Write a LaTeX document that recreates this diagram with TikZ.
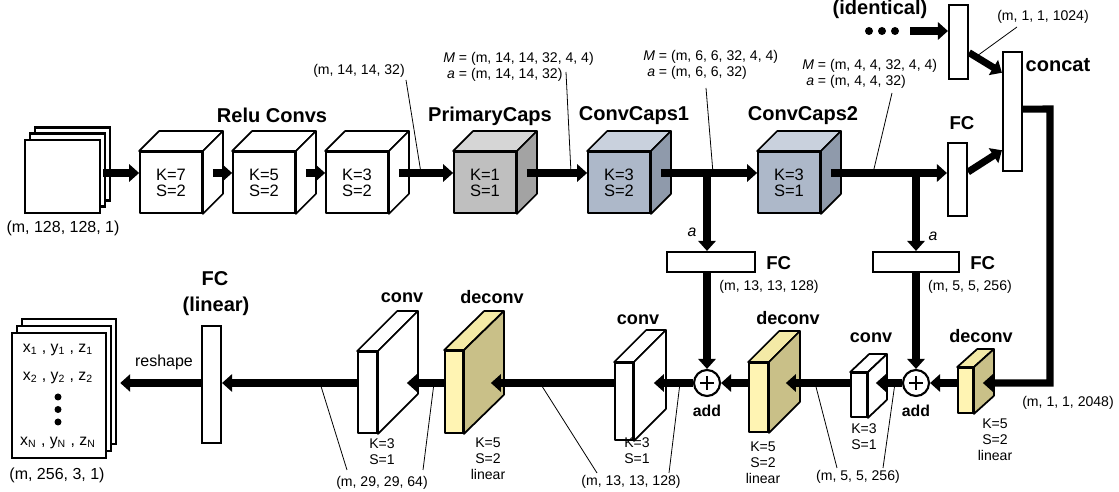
\documentclass[tikz,border=0pt]{standalone}
\usepackage{fontspec}
\setmainfont{Liberation Sans}
\usetikzlibrary{arrows.meta,calc}

\definecolor{pcF}{HTML}{BFBFBF}
\definecolor{pcT}{HTML}{D6D6D6}
\definecolor{pcS}{HTML}{A3A3A3}
\definecolor{ccF}{HTML}{ADB8C9}
\definecolor{ccT}{HTML}{C9D1DD}
\definecolor{ccS}{HTML}{8F9AAB}
\definecolor{dcF}{HTML}{FFF4B3}
\definecolor{dcT}{HTML}{F4EAA6}
\definecolor{dcS}{HTML}{C9C088}

% top and side faces of a block whose front face is the node #1
% #2 = depth to the right, #3 = depth upwards, #4 = top fill, #5 = side fill
\newcommand\blockfaces[5]{%
  \draw[facet, fill=#4] (#1.north west) -- ++(#2,-#3) -- ($(#1.north east)+(#2,-#3)$) -- (#1.north east) -- cycle;
  \draw[facet, fill=#5] (#1.north east) -- ++(#2,-#3) -- ($(#1.south east)+(#2,-#3)$) -- (#1.south east) -- cycle;
}

\begin{document}
\begin{tikzpicture}[x=0.02cm, y=-0.02cm,
  facet/.style={draw, line width=1pt, line join=round},
  frontface/.style={facet, inner sep=0pt, align=center, font=\fontsize{9.4}{9.1}\selectfont},
  sz/.style 2 args={minimum width=#1*0.02cm, minimum height=#2*0.02cm},
  slimbox/.style={draw, fill=white, line width=1.2pt, inner sep=0pt},
  sheet/.style={draw, fill=white, line width=1.4pt, inner sep=0pt},
  pipe/.style={line width=4pt, -{Triangle[length=5.7pt,width=9.8pt]}},
  leader/.style={line width=0.45pt},
  addn/.style={circle, draw, fill=white, line width=1.2pt, inner sep=0pt, minimum size=26*0.02cm},
  plusbar/.style={line width=1.5pt},
  ttl/.style={font=\bfseries\fontsize{11.4}{13}\selectfont, inner sep=0pt},
  lyr/.style={font=\bfseries\fontsize{10.3}{12}\selectfont, inner sep=0pt},
  fctxt/.style={font=\bfseries\fontsize{10.6}{12}\selectfont, inner sep=0pt},
  addtxt/.style={font=\bfseries\fontsize{9}{11}\selectfont, inner sep=0pt},
  ksmall/.style={font=\fontsize{8}{9.2}\selectfont, align=center, inner sep=0pt},
  dimlbl/.style={font=\fontsize{8}{9}\selectfont, inner sep=0pt},
  biglbl/.style={font=\fontsize{9.1}{11}\selectfont, inner sep=0pt},
  outtxt/.style={font=\fontsize{9}{11}\selectfont, inner sep=0pt},
  alab/.style={font=\itshape\fontsize{9}{11}\selectfont, inner sep=0pt},
  dotn/.style={circle, fill, inner sep=0pt, minimum size=8*0.02cm},
  sdot/.style={circle, fill, inner sep=0pt, minimum size=7*0.02cm}
]
\useasboundingbox (0,0) rectangle (1119,492);

\coordinate (r1) at (0,173);
\coordinate (r2) at (0,383);
\coordinate (b1) at (707,173);
\coordinate (b2) at (916,173);
\coordinate (rail) at (1050,109);

% ---------- input stack ----------
\node[sheet, sz={75}{73}] (inC) at (72.5,164) {};
\node[sheet, sz={75}{73}] (inB) at (67.5,170) {};
\node[sheet, sz={75}{73}] (inA) at (62.5,176.5) {};
\node[biglbl] (inLbl) at (63,228) {(m, 128, 128, 1)};

% ---------- encoder cubes ----------
\node[frontface, sz={62}{61}, fill=white] (c1) at (171,182.5) {K=7\\S=2};
\blockfaces{c1}{20}{20}{white}{white}
\node[frontface, sz={62}{61}, fill=white] (c2) at (264,182.5) {K=5\\S=2};
\blockfaces{c2}{20}{20}{white}{white}
\node[frontface, sz={62}{61}, fill=white] (c3) at (357,182.5) {K=3\\S=2};
\blockfaces{c3}{20}{20}{white}{white}
\node[frontface, sz={62}{61}, fill=pcF] (pc) at (485,182.5) {K=1\\S=1};
\blockfaces{pc}{20}{20}{pcT}{pcS}
\node[frontface, sz={62}{61}, fill=ccF] (cc1) at (619,182.5) {K=3\\S=2};
\blockfaces{cc1}{20}{20}{ccT}{ccS}
\node[frontface, sz={62}{61}, fill=ccF] (cc2) at (789,182.5) {K=3\\S=1};
\blockfaces{cc2}{20}{20}{ccT}{ccS}

\node[ttl] (tRelu) at (272,115) {Relu Convs};
\node[ttl] (tPC) at (490,116) {PrimaryCaps};
\node[ttl] (tCC1) at (634,116) {ConvCaps1};
\node[ttl] (tCC2) at (803,116) {ConvCaps2};

% ---------- capsule shape labels ----------
\node[dimlbl] (d1) at (359,71) {(m, 14, 14, 32)};
\node[dimlbl, anchor=west] (pcL) at (443,67)
  {\begin{tabular}{@{}r@{\ =\ }l@{}}\textit{M} & (m, 14, 14, 32, 4, 4)\\ \textit{a} & (m, 14, 14, 32)\end{tabular}};
\node[dimlbl, anchor=west] (cc1L) at (643,65)
  {\begin{tabular}{@{}r@{\ =\ }l@{}}\textit{M} & (m, 6, 6, 32, 4, 4)\\ \textit{a} & (m, 6, 6, 32)\end{tabular}};
\node[dimlbl, anchor=west] (cc2L) at (802,74)
  {\begin{tabular}{@{}r@{\ =\ }l@{}}\textit{M} & (m, 4, 4, 32, 4, 4)\\ \textit{a} & (m, 4, 4, 32)\end{tabular}};
\node[dimlbl] (m1024) at (1043,17) {(m, 1, 1, 1024)};

\draw[leader] (406,80) -- (421,173);
\draw[leader] (566,72) -- (571,173);
\draw[leader] (706,88) -- (713,173);
\draw[leader] (892,93) -- (873,173);
\draw[leader] (1017,27) -- (977,56);

% ---------- heads and concatenation ----------
\node[slimbox, sz={19}{73}] (fcR) at (957.5,179.5) {};
\node[slimbox, sz={19}{74}] (idn) at (958.5,42) {};
\node[slimbox, sz={19}{119}] (cat) at (1012.5,111.5) {};
\node[fctxt] (tFCR) at (962,123) {FC};
\node[ttl] (tCat) at (1058,65) {concat};
\node[ttl] (tIdn) at (880,9) {(identical)};
\node[dotn] (dt1) at (869,31) {};
\node[dotn] (dt2) at (882,31) {};
\node[dotn] (dt3) at (895,31) {};

% ---------- branch FC boxes ----------
\node[slimbox, sz={88}{20}] (fc1) at (711,262) {};
\node[slimbox, sz={86}{20}] (fc2) at (916,262) {};
\node[fctxt, anchor=west] (tFC1) at (766,263) {FC};
\node[fctxt, anchor=west] (tFC2) at (970,263) {FC};
\node[dimlbl] (l13a) at (769,287) {(m, 13, 13, 128)};
\node[dimlbl] (l5a) at (970,287) {(m, 5, 5, 256)};
\node[alab] (a1) at (692,232) {a};
\node[alab] (a2) at (933,236) {a};

% ---------- decoder blocks ----------
\node[facet, inner sep=0pt, fill=dcF, sz={15}{45}] (dr) at (965.5,390.5) {};
\blockfaces{dr}{20}{18}{dcT}{dcS}
\node[facet, inner sep=0pt, fill=white, sz={16}{44}] (cs) at (859,395) {};
\blockfaces{cs}{19}{18}{white}{white}
\node[facet, inner sep=0pt, fill=dcF, sz={19}{69}] (dm) at (758.5,397.5) {};
\blockfaces{dm}{31}{31}{dcT}{dcS}
\node[facet, inner sep=0pt, fill=white, sz={18}{77}] (cm) at (624,401.5) {};
\blockfaces{cm}{32}{32}{white}{white}
\node[facet, inner sep=0pt, fill=dcF, sz={18}{82}] (dl) at (454,392) {};
\blockfaces{dl}{40}{39}{dcT}{dcS}
\node[facet, inner sep=0pt, fill=white, sz={19}{81}] (cl) at (367.5,392.5) {};
\blockfaces{cl}{40}{40}{white}{white}
\node[slimbox, sz={19}{117}] (fcl) at (211.5,384.5) {};

\node[lyr] (tdr) at (981,336) {deconv};
\node[lyr] (tcs) at (871,338) {conv};
\node[lyr] (tdm) at (788,318) {deconv};
\node[lyr] (tcm) at (638,320) {conv};
\node[lyr] (tdl) at (492,297) {deconv};
\node[lyr] (tcl) at (402,298) {conv};
\node[ttl] (tfcl) at (215,279) {FC};
\node[ttl] (tfcl2) at (216,306) {(linear)};

\node[ksmall] (kdr) at (995,440) {K=5\\S=2\\linear};
\node[ksmall] (kcs) at (864,436.5) {K=3\\S=1};
\node[ksmall] (kdm) at (763,463) {K=5\\S=2\\linear};
\node[ksmall] (kcm) at (637,451) {K=3\\S=1};
\node[ksmall] (kdl) at (488,459) {K=5\\S=2\\linear};
\node[ksmall] (kcl) at (382,451.5) {K=3\\S=1};

\node[dimlbl] (l2048) at (1068,403) {(m, 1, 1, 2048)};
\node[dimlbl] (l5b) at (858,477) {(m, 5, 5, 256)};
\node[dimlbl] (l13b) at (631,482) {(m, 13, 13, 128)};
\node[dimlbl] (l29) at (382,483) {(m, 29, 29, 64)};

\draw[leader] (837,468) -- (815,383);
\draw[leader] (883,468) -- (895,383);
\draw[leader] (597,473) -- (540,383);
\draw[leader] (669,473) -- (680,383);
\draw[leader] (347,470) -- (320,383);
\draw[leader] (423,470) -- (434,383);

% ---------- add nodes ----------
\node[addn] (add1) at (707,383) {};
\node[addn] (add2) at (916,383) {};
\draw[plusbar] ($(add1)+(-7,0)$) -- ($(add1)+(7,0)$);
\draw[plusbar] ($(add1)+(0,-7)$) -- ($(add1)+(0,7)$);
\draw[plusbar] ($(add2)+(-7,0)$) -- ($(add2)+(7,0)$);
\draw[plusbar] ($(add2)+(0,-7)$) -- ($(add2)+(0,7)$);
\node[addtxt] (tadd1) at (707,411) {add};
\node[addtxt] (tadd2) at (916,411) {add};

% ---------- output stack ----------
\node[sheet, sz={94}{125}] (outC) at (69,381.5) {};
\node[sheet, sz={94}{125}] (outB) at (64,388.5) {};
\node[sheet, sz={94}{125}] (outA) at (59,395.5) {};
\node[outtxt] (p1) at (58,350) {x\textsubscript{1} , y\textsubscript{1} , z\textsubscript{1}};
\node[outtxt] (p2) at (58,378) {x\textsubscript{2} , y\textsubscript{2} , z\textsubscript{2}};
\node[sdot] (e1) at (58,397) {};
\node[sdot] (e2) at (58,409.5) {};
\node[sdot] (e3) at (58,422) {};
\node[outtxt] (pN) at (58,443) {x\textsubscript{N} , y\textsubscript{N} , z\textsubscript{N}};
\node[biglbl] (outLbl) at (57,475) {(m, 256, 3, 1)};
\node[biglbl] (tres) at (164,362) {reshape};

% ---------- encoder connections ----------
\draw[pipe] ($(inA.east |- r1)+(2,0)$) -- (c1.west |- r1);
\draw[pipe] ($(c1.east |- r1)+(10,0)$) -- (c2.west |- r1);
\draw[pipe] ($(c2.east |- r1)+(10,0)$) -- (c3.west |- r1);
\draw[pipe] ($(c3.east |- r1)+(10,0)$) -- (pc.west |- r1);
\draw[pipe] ($(pc.east |- r1)+(10,0)$) -- (cc1.west |- r1);
\draw[pipe] ($(cc1.east |- r1)+(10,0)$) -- (cc2.west |- r1);
\draw[pipe] ($(cc2.east |- r1)+(10,0)$) -- (fcR.west |- r1);

\draw[pipe] (b1) -- (b1 |- fc1.north);
\draw[pipe] (fc1.south -| b1) -- (add1.north);
\draw[pipe] (b2) -- (b2 |- fc2.north);
\draw[pipe] (fc2.south -| b2) -- (add2.north);

\draw[pipe] ($(dt3.east)+(11,0)$) -- (idn.west |- dt3);
\draw[pipe] ($(idn.north east)!0.64!(idn.south east)$) -- ($(cat.north west)!0.18!(cat.south west)$);
\draw[pipe] ($(fcR.north east)!0.4!(fcR.south east)$) -- ($(cat.north west)!0.82!(cat.south west)$);
\draw[pipe, line join=miter] ($(cat.north east)!0.48!(cat.south east)$) -- (rail) -- (rail |- r2) -- ($(dr.east |- r2)+(9,0)$);

% ---------- decoder connections ----------
\draw[pipe] (dr.west |- r2) -- (add2.east);
\draw[pipe] (add2.west) -- ($(cs.east |- r2)+(8,0)$);
\draw[pipe] (cs.west |- r2) -- ($(dm.east |- r2)+(17,0)$);
\draw[pipe] (dm.west |- r2) -- (add1.east);
\draw[pipe] (add1.west) -- ($(cm.east |- r2)+(20,0)$);
\draw[pipe] (cm.west |- r2) -- ($(dl.east |- r2)+(27,0)$);
\draw[pipe] (dl.west |- r2) -- ($(cl.east |- r2)+(29,0)$);
\draw[pipe] (cl.west |- r2) -- (fcl.east |- r2);
\draw[pipe] (fcl.west |- r2) -- ($(outC.east |- r2)+(3,0)$);
\end{tikzpicture}
\end{document}
